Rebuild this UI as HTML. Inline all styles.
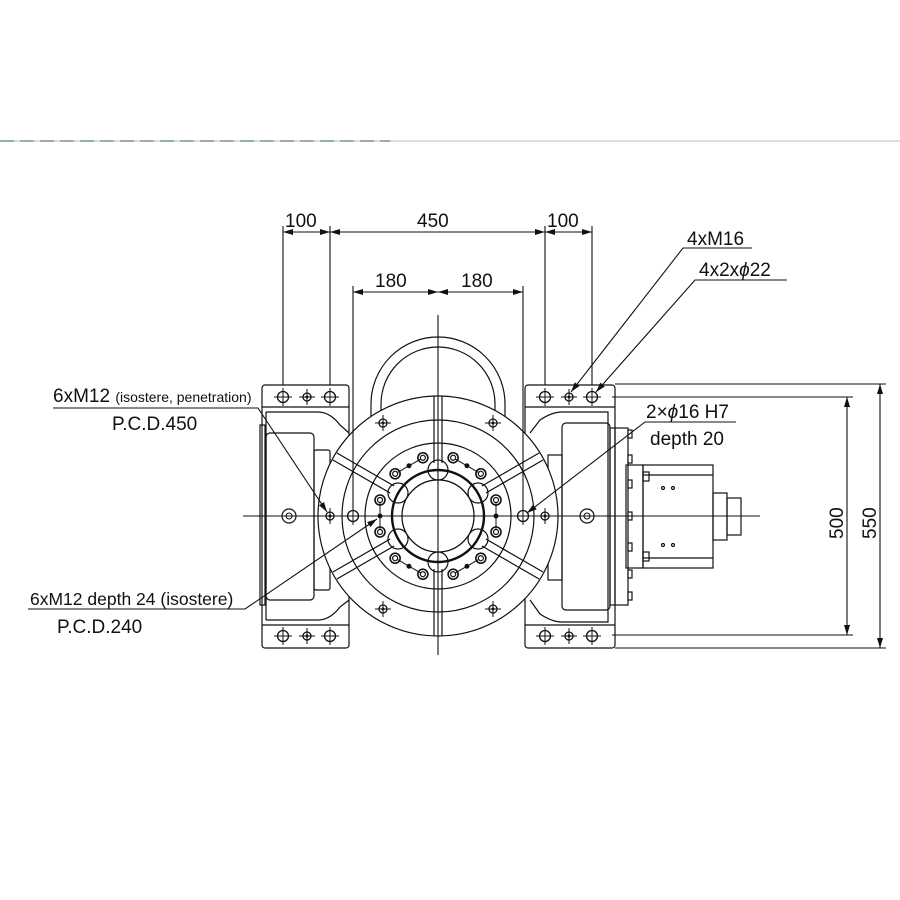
<!DOCTYPE html>
<html><head><meta charset="utf-8"><style>
html,body{margin:0;padding:0;background:#fff}
svg{display:block}
text{font-family:"Liberation Sans",sans-serif;fill:#111}
</style></head><body>
<svg width="900" height="900" viewBox="0 0 900 900" xmlns="http://www.w3.org/2000/svg">
<defs>
<marker id="a" viewBox="0 0 10 6" refX="10" refY="3" markerWidth="10" markerHeight="6" orient="auto-start-reverse" markerUnits="userSpaceOnUse"><path d="M0,0L10,3L0,6z" fill="#111"/></marker>
<g id="hp"><circle r="5.5" fill="none" stroke="#111" stroke-width="1.3"/><path d="M-9,0H9M0,-9V9" stroke="#111" stroke-width="1"/></g>
<g id="hs"><circle r="4" fill="none" stroke="#111" stroke-width="1.3"/><circle r="1.5" fill="#111"/><path d="M-8,0H8M0,-8V8" stroke="#111" stroke-width="1"/></g>
<g id="bolt"><circle r="5" fill="none" stroke="#111" stroke-width="1.6"/><circle r="2.5" fill="none" stroke="#111" stroke-width="1.2"/></g>
</defs>
<line x1="0" y1="141" x2="900" y2="141" stroke="#bbb" stroke-width="1"/>
<line x1="0" y1="141" x2="390" y2="141" stroke="#5a7a88" stroke-width="1.2" stroke-dasharray="14,6"/>
<g stroke="#111" fill="none" stroke-width="1.2">
<path d="M371,420 V404 A67,67 0 0 1 505,404 V420"/>
<path d="M381,420 V404 A57,57 0 0 1 495,404 V420"/>
<rect x="262" y="385" width="87" height="263" rx="3"/>
<line x1="262" y1="407" x2="349" y2="407"/>
<line x1="262" y1="625" x2="349" y2="625"/>
<path d="M266,412 H318 Q330,412 340,425 L349,433"/>
<path d="M266,620 H318 Q330,620 340,607 L349,600"/>
<line x1="266" y1="412" x2="266" y2="620"/>
<rect x="266" y="433" width="48" height="167" rx="4"/>
<rect x="314" y="450" width="16" height="140" rx="2"/>
<rect x="260" y="425" width="5" height="180"/>
<rect x="525" y="385" width="90" height="263" rx="3"/>
<line x1="525" y1="407" x2="615" y2="407"/>
<line x1="525" y1="625" x2="615" y2="625"/>
<path d="M530,433 L540,420 Q552,412 562,412 H608 V622 H562 Q552,622 540,614 L530,600"/>
<rect x="562" y="423" width="48" height="187" rx="4"/>
<rect x="548" y="455" width="14" height="125"/>
<rect x="610" y="428" width="18" height="177"/>
<line x1="615" y1="428" x2="615" y2="605"/>
<g fill="#fff"><rect x="628" y="430" width="4" height="8"/><rect x="628" y="455" width="4" height="8"/><rect x="628" y="480" width="4" height="8"/><rect x="628" y="512" width="4" height="8"/><rect x="628" y="543" width="4" height="8"/><rect x="628" y="570" width="4" height="8"/><rect x="628" y="592" width="4" height="8"/></g>
<rect x="626" y="465" width="17" height="103"/>
<rect x="643" y="465" width="70" height="103"/>
<line x1="643" y1="475" x2="713" y2="475"/><line x1="643" y1="558" x2="713" y2="558"/>
<rect x="643" y="472" width="6" height="9"/><rect x="643" y="552" width="6" height="9"/>
<circle cx="663" cy="488" r="1.5"/><circle cx="673" cy="488" r="1.5"/><circle cx="663" cy="545" r="1.5"/><circle cx="673" cy="545" r="1.5"/>
<rect x="713" y="493" width="14" height="47"/>
<rect x="727" y="498" width="14" height="37"/>
<circle cx="438" cy="516" r="120" fill="#fff"/>
<circle cx="438" cy="516" r="96"/>
<circle cx="438" cy="516" r="73"/>
<circle cx="438" cy="516" r="46" stroke-width="2.4"/>
<circle cx="438" cy="516" r="36"/>
</g>
<g stroke="#111" stroke-width="1.2" fill="none">
<g transform="rotate(-90 438 516)"><path d="M491,512 H558 M491,520 H558"/></g>
<g transform="rotate(90 438 516)"><path d="M491,512 H558 M491,520 H558"/></g>
<g transform="rotate(-30 438 516)"><path d="M491,512 H557 M491,520 H557"/></g>
<g transform="rotate(30 438 516)"><path d="M491,512 H557 M491,520 H557"/></g>
<g transform="rotate(150 438 516)"><path d="M491,512 H557 M491,520 H557"/></g>
<g transform="rotate(210 438 516)"><path d="M491,512 H557 M491,520 H557"/></g>
<circle cx="438" cy="470" r="10"/><circle cx="438" cy="562" r="10"/>
<circle cx="398" cy="493" r="10"/><circle cx="478" cy="493" r="10"/>
<circle cx="398" cy="539" r="10"/><circle cx="478" cy="539" r="10"/>
</g>
<circle cx="438" cy="516" r="36" fill="#fff" stroke="#111" stroke-width="1.2"/>
<g>
<g transform="rotate(0 438 516)"><use href="#bolt" x="496" y="500"/><use href="#bolt" x="496" y="532"/><circle cx="496" cy="516" r="2.5" fill="#111"/><line x1="496" y1="503" x2="496" y2="529" stroke="#111"/></g>
<g transform="rotate(60 438 516)"><use href="#bolt" x="496" y="500"/><use href="#bolt" x="496" y="532"/><circle cx="496" cy="516" r="2.5" fill="#111"/><line x1="496" y1="503" x2="496" y2="529" stroke="#111"/></g>
<g transform="rotate(120 438 516)"><use href="#bolt" x="496" y="500"/><use href="#bolt" x="496" y="532"/><circle cx="496" cy="516" r="2.5" fill="#111"/><line x1="496" y1="503" x2="496" y2="529" stroke="#111"/></g>
<g transform="rotate(180 438 516)"><use href="#bolt" x="496" y="500"/><use href="#bolt" x="496" y="532"/><circle cx="496" cy="516" r="2.5" fill="#111"/><line x1="496" y1="503" x2="496" y2="529" stroke="#111"/></g>
<g transform="rotate(240 438 516)"><use href="#bolt" x="496" y="500"/><use href="#bolt" x="496" y="532"/><circle cx="496" cy="516" r="2.5" fill="#111"/><line x1="496" y1="503" x2="496" y2="529" stroke="#111"/></g>
<g transform="rotate(300 438 516)"><use href="#bolt" x="496" y="500"/><use href="#bolt" x="496" y="532"/><circle cx="496" cy="516" r="2.5" fill="#111"/><line x1="496" y1="503" x2="496" y2="529" stroke="#111"/></g>
<use href="#hs" x="383" y="423"/><use href="#hs" x="493" y="423"/><use href="#hs" x="383" y="609"/><use href="#hs" x="493" y="609"/>
</g>
<use href="#hp" x="283" y="397"/><use href="#hs" x="307" y="397"/><use href="#hp" x="330" y="397"/>
<use href="#hp" x="545" y="397"/><use href="#hs" x="569" y="397"/><use href="#hp" x="592" y="397"/>
<use href="#hp" x="283" y="636"/><use href="#hs" x="307" y="636"/><use href="#hp" x="330" y="636"/>
<use href="#hp" x="545" y="636"/><use href="#hs" x="569" y="636"/><use href="#hp" x="592" y="636"/>
<circle cx="289" cy="516" r="7" fill="none" stroke="#111" stroke-width="1.2"/><circle cx="289" cy="516" r="3" fill="none" stroke="#111"/>
<circle cx="587" cy="516" r="7" fill="none" stroke="#111" stroke-width="1.2"/><circle cx="587" cy="516" r="3" fill="none" stroke="#111"/>
<use href="#hs" x="330" y="516"/><use href="#hp" x="353" y="516"/>
<use href="#hp" x="523" y="516"/><use href="#hs" x="545" y="516"/>
<g stroke="#111" stroke-width="1.1">
<line x1="438" y1="315" x2="438" y2="655"/>
<line x1="243" y1="516" x2="760" y2="516"/>
<line x1="283" y1="226" x2="283" y2="385"/><line x1="330" y1="226" x2="330" y2="385"/>
<line x1="545" y1="226" x2="545" y2="385"/><line x1="592" y1="226" x2="592" y2="385"/>
<line x1="353" y1="286" x2="353" y2="510"/><line x1="523" y1="286" x2="523" y2="510"/>
<line x1="615" y1="384" x2="886" y2="384"/><line x1="615" y1="648" x2="886" y2="648"/>
<line x1="612" y1="397" x2="853" y2="397"/><line x1="612" y1="635" x2="853" y2="635"/>
</g>
<g stroke="#111" stroke-width="1.1" marker-start="url(#a)" marker-end="url(#a)">
<line x1="283" y1="232" x2="330" y2="232"/><line x1="330" y1="232" x2="545" y2="232"/><line x1="545" y1="232" x2="592" y2="232"/>
<line x1="353" y1="292" x2="438" y2="292"/><line x1="438" y1="292" x2="523" y2="292"/>
<line x1="880" y1="384" x2="880" y2="648"/><line x1="847" y1="397" x2="847" y2="635"/>
</g>
<g stroke="#111" stroke-width="1.1" fill="none">
<path d="M53,408 H258 L327,512" marker-end="url(#a)"/>
<path d="M28,609 H245 L377,519" marker-end="url(#a)"/>
<path d="M752,248 H683 L571,392" marker-end="url(#a)"/>
<path d="M787,280 H695 L596,392" marker-end="url(#a)"/>
<path d="M736,422 H645 L527,513" marker-end="url(#a)"/>
</g>
<g font-size="19">
<text x="285" y="227">100</text><text x="417" y="227">450</text><text x="547" y="227">100</text>
<text x="375" y="287">180</text><text x="461" y="287">180</text>
<text x="687" y="245">4xM16</text>
<text x="699" y="276">4x2x<tspan font-style="italic">ϕ</tspan>22</text>
<text x="646" y="418">2×<tspan font-style="italic">ϕ</tspan>16 H7</text>
<text x="650" y="445">depth 20</text>
<text x="53" y="402">6xM12 <tspan font-size="14">(isostere, penetration)</tspan></text>
<text x="112" y="430">P.C.D.450</text>
<text x="30" y="605" font-size="17.5">6xM12 depth 24 (isostere)</text>
<text x="57" y="633">P.C.D.240</text>
<text transform="translate(843,539) rotate(-90)">500</text>
<text transform="translate(876,539) rotate(-90)">550</text>
</g>
</svg>
</body></html>
